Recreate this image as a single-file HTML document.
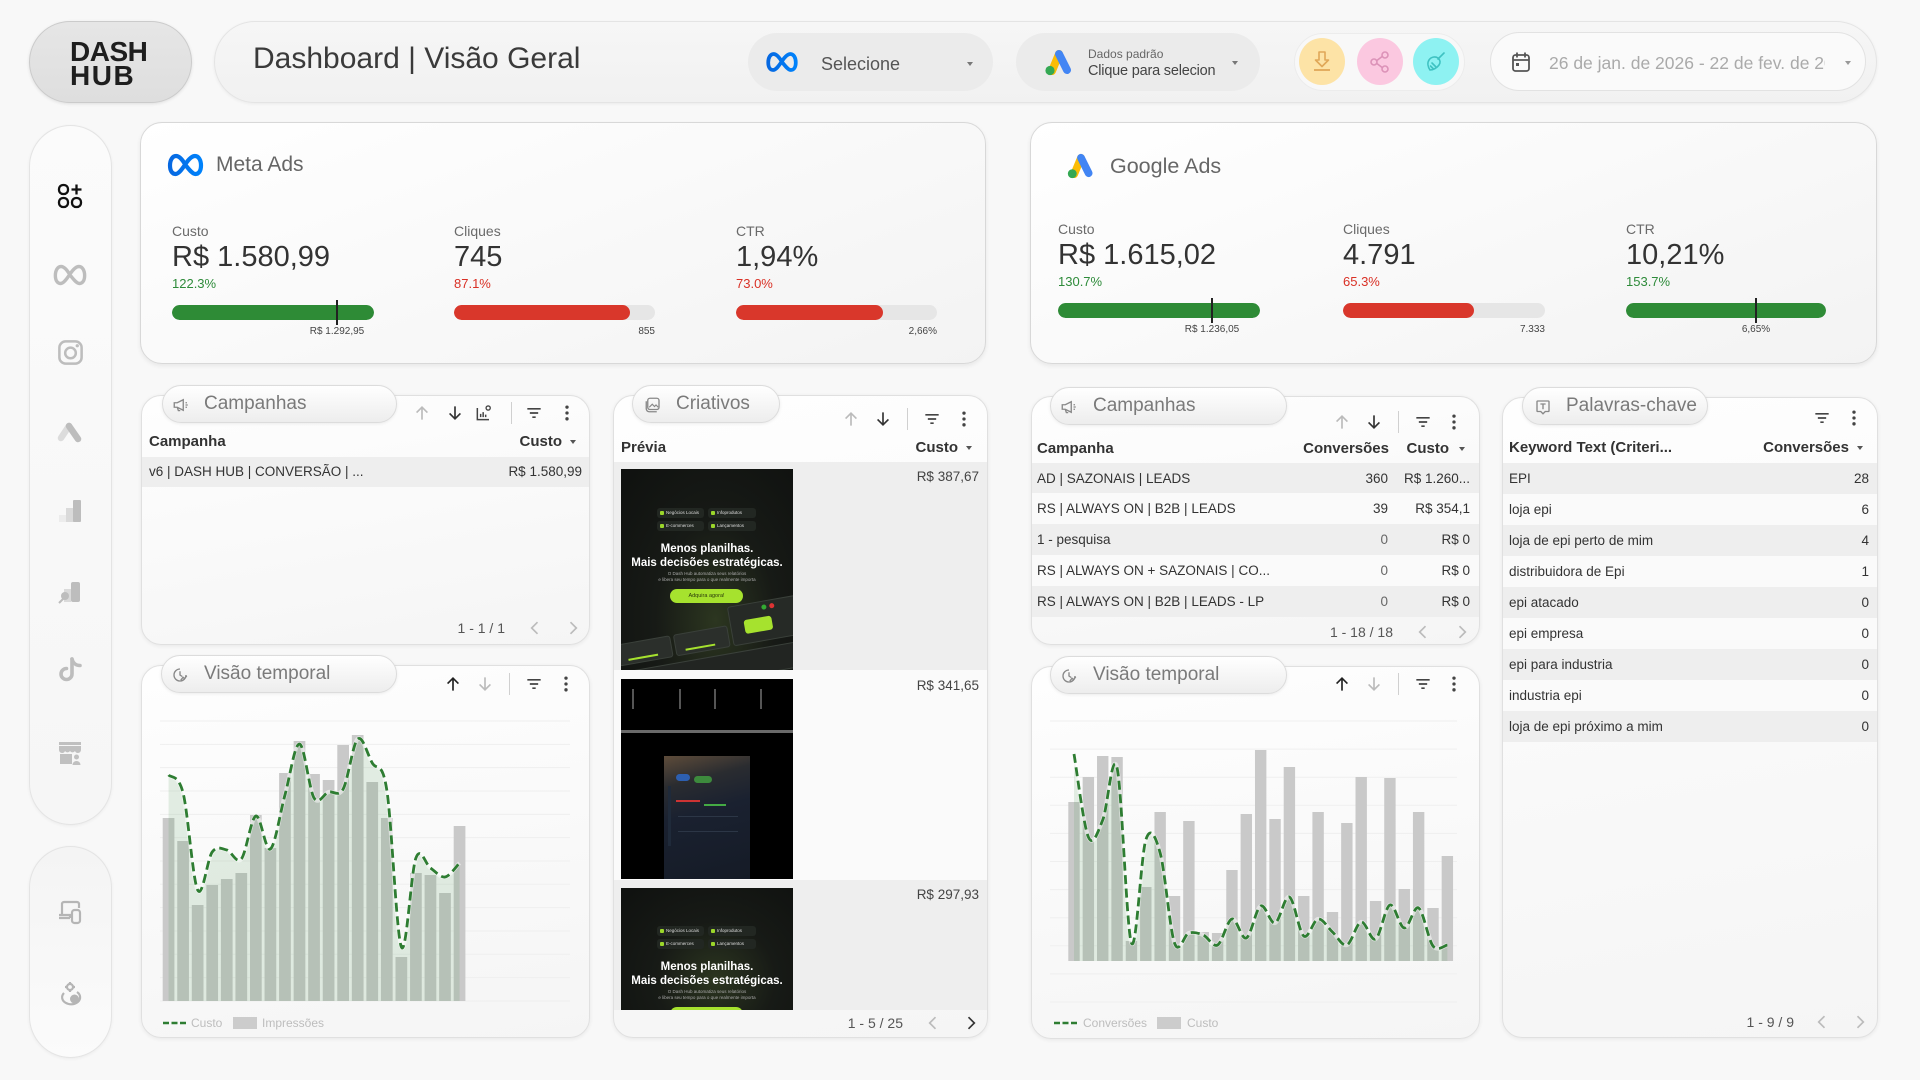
<!DOCTYPE html>
<html><head><meta charset="utf-8">
<style>
*{box-sizing:border-box;margin:0;padding:0}
body{width:1920px;height:1080px;background:#f8f8f8;font-family:"Liberation Sans",Arial,sans-serif;position:relative;overflow:hidden;color:#333}
.a{position:absolute}
.t{position:absolute;white-space:nowrap}
.r{text-align:right}
.card{position:absolute;border:1px solid #d8d8d8;border-radius:22px;background:linear-gradient(160deg,#ffffff 0%,#f3f3f3 100%);box-shadow:0 2px 5px rgba(0,0,0,0.07)}
.panel{position:absolute;border:1px solid #e0e0e0;border-radius:20px;background:linear-gradient(170deg,#fefefe 0%,#f5f5f5 100%);box-shadow:0 1px 4px rgba(0,0,0,0.07)}
.tpill{position:absolute;height:38px;border-radius:19px;border:1px solid #dcdcdc;background:linear-gradient(180deg,#ffffff,#ededed);box-shadow:0 1px 3px rgba(0,0,0,0.07)}
.tpill span{position:absolute;top:0;line-height:36px;font-size:19px;color:#7a7a7a;white-space:nowrap}
.tpill svg{position:absolute;top:10px}
.ic{position:absolute;width:20px;height:20px}
.div{position:absolute;width:1px;height:22px;background:#d0d0d0}
.tri{position:absolute;width:0;height:0;border-left:3.5px solid transparent;border-right:3.5px solid transparent;border-top:4.5px solid #555}
.lab{font-size:14px;line-height:18px;color:#6a6a6a}
.val{font-size:29px;line-height:34px;color:#333}
.pct{font-size:13px;line-height:16px}
.g{color:#2e8b3a}.rd{color:#d93025}
.bar{position:absolute;height:15px;border-radius:8px;background:#e6e6e6;overflow:hidden}
.bar i{position:absolute;left:0;top:0;bottom:0;border-radius:8px}
.tl{position:absolute;width:1.5px;height:25px;background:#222}
.tlab{font-size:10px;line-height:12px;color:#444}
.th{font-size:15px;line-height:18px;font-weight:bold;color:#333}
.td{font-size:13.5px;line-height:17px;color:#333}
.rowg{position:absolute;background:#eeeeee}
.roww{position:absolute;background:#fafafa}
.foot{font-size:14px;line-height:18px;color:#555}
.leg{font-size:12px;line-height:14px;color:#bdbdbd}
.chip{position:absolute;height:10px;border-radius:3px;background:#222722;font-size:4.5px;line-height:10px;color:#ddd;padding-left:9px;white-space:nowrap;overflow:hidden}
.chip b{position:absolute;left:3px;top:3px;width:4px;height:4px;background:#9bd62a;border-radius:1px}
.crea{position:absolute;overflow:hidden;background:radial-gradient(ellipse at 55% 75%,#2c3620 0%,#171a16 45%,#0f110f 100%)}
.hl{position:absolute;left:0;width:172px;text-align:center;font-weight:bold;font-size:11.5px;line-height:14px;color:#fff;white-space:nowrap}
.sm{position:absolute;left:0;width:172px;text-align:center;font-size:4.5px;line-height:6px;color:#aaa;white-space:nowrap}
.btn{position:absolute;left:49px;top:120px;width:73px;height:14px;border-radius:7px;background:#a6e22e;font-size:5.5px;line-height:14px;color:#2a3a0a;text-align:center}
.dc{position:absolute;background:#2b2f2b;border:1px solid #3a403a;border-radius:3px}
</style></head><body>

<svg width="0" height="0" style="position:absolute">
<defs>
<symbol id="up" viewBox="0 0 24 24"><path d="M12 20V5M5.5 11.5L12 5l6.5 6.5" fill="none" stroke="currentColor" stroke-width="2"/></symbol>
<symbol id="dn" viewBox="0 0 24 24"><path d="M12 4v15M5.5 12.5L12 19l6.5-6.5" fill="none" stroke="currentColor" stroke-width="2"/></symbol>
<symbol id="flt" viewBox="0 0 24 24"><path d="M4 7h16M7 12h10M10 17h4" fill="none" stroke="currentColor" stroke-width="2"/></symbol>
<symbol id="more" viewBox="0 0 24 24"><circle cx="12" cy="5" r="2" fill="currentColor"/><circle cx="12" cy="12" r="2" fill="currentColor"/><circle cx="12" cy="19" r="2" fill="currentColor"/></symbol>
<symbol id="cl" viewBox="0 0 24 24"><path d="M15 5l-7 7 7 7" fill="none" stroke="currentColor" stroke-width="2"/></symbol>
<symbol id="cr" viewBox="0 0 24 24"><path d="M9 5l7 7-7 7" fill="none" stroke="currentColor" stroke-width="2"/></symbol>
<symbol id="chartic" viewBox="0 0 24 24"><path d="M4 6v14h14" fill="none" stroke="currentColor" stroke-width="1.8"/><path d="M8 17v-4M11 17v-6M14 17v-3" stroke="currentColor" stroke-width="1.8"/><circle cx="17" cy="6" r="2.5" fill="none" stroke="currentColor" stroke-width="1.6"/></symbol>
<symbol id="mega" viewBox="0 0 24 24"><path d="M3 9h4l8-4v14l-8-4H3z M7 15l1.5 4.5h2.5" fill="none" stroke="currentColor" stroke-width="1.8"/><path d="M18 9h2M18 12h3M18 15h2" stroke="currentColor" stroke-width="1.6"/></symbol>
<symbol id="img" viewBox="0 0 24 24"><rect x="5" y="3" width="15" height="15" rx="3" fill="none" stroke="currentColor" stroke-width="1.8"/><path d="M3 7v10a4 4 0 0 0 4 4h10" fill="none" stroke="currentColor" stroke-width="1.8"/><path d="M7 15l4-4 3 3 2-2 3 3" fill="none" stroke="currentColor" stroke-width="1.6"/></symbol>
<symbol id="clock" viewBox="0 0 24 24"><path d="M20 12a8 8 0 1 1-8-8" fill="none" stroke="currentColor" stroke-width="1.8"/><path d="M12 7v5l3 2" fill="none" stroke="currentColor" stroke-width="1.8"/><path d="M13 19l3-4 2 2 3-4" fill="none" stroke="currentColor" stroke-width="1.8"/></symbol>
<symbol id="tbox" viewBox="0 0 24 24"><path d="M5 4h14a1 1 0 0 1 1 1v12a1 1 0 0 1-1 1h-4l-3 3-3-3H5a1 1 0 0 1-1-1V5a1 1 0 0 1 1-1z" fill="none" stroke="currentColor" stroke-width="1.8"/><path d="M8.5 8h7M12 8v7" stroke="currentColor" stroke-width="1.8"/></symbol>
<linearGradient id="mg" x1="0" y1="0" x2="1" y2="0"><stop offset="0" stop-color="#0668E1"/><stop offset="1" stop-color="#0082FB"/></linearGradient>
<symbol id="metalogo" viewBox="0 0 36 24"><path d="M18 12C14 5 11 3 8.5 3 5 3 2.5 7 2.5 12.5 2.5 17.5 4.5 21 8 21 11 21 14 17 18 11 22 5 25 3 27.5 3 31 3 33.5 7 33.5 12.5 33.5 17.5 31.5 21 28 21 25 21 22 17 18 12Z" fill="none" stroke="url(#mg)" stroke-width="4.2"/></symbol>
<symbol id="gads" viewBox="0 0 32 28"><path d="M10 23L17 6" stroke="#FBBC04" stroke-width="8" stroke-linecap="round"/><path d="M17 6L25 22" stroke="#4285F4" stroke-width="8" stroke-linecap="round"/><circle cx="8" cy="22.5" r="4.6" fill="#34A853"/></symbol>
</defs></svg>

<!-- Logo -->
<div class="a" style="left:29px;top:21px;width:163px;height:82px;border-radius:41px;background:linear-gradient(180deg,#e6e6e6,#dedede);border:1px solid #cbcbcb;box-shadow:0 1px 3px rgba(0,0,0,0.1)"></div>
<div class="t" style="left:70px;top:38px;font-size:28px;line-height:28px;font-weight:bold;color:#1e1e1e;letter-spacing:-0.5px">DASH</div>
<div class="t" style="left:70px;top:62px;font-size:28px;line-height:28px;font-weight:bold;color:#1e1e1e;letter-spacing:1.5px">HUB</div>

<!-- Header bar -->
<div class="a" style="left:214px;top:21px;width:1663px;height:82px;border-radius:41px;background:linear-gradient(180deg,#f6f6f6,#f1f1f1);border:1px solid #e4e4e4;box-shadow:0 1px 3px rgba(0,0,0,0.06)"></div>
<div class="t" style="left:253px;top:41px;font-size:30px;line-height:36px;color:#3a3a3a">Dashboard | Visão Geral</div>

<div class="a" style="left:748px;top:33px;width:245px;height:58px;border-radius:29px;background:#ebebeb"></div>
<svg class="a" style="left:766px;top:51px" width="32" height="22"><use href="#metalogo"/></svg>
<div class="t" style="left:821px;top:53px;font-size:18px;line-height:22px;color:#555">Selecione</div>
<div class="tri" style="left:967px;top:62px;border-top-color:#777"></div>

<div class="a" style="left:1016px;top:33px;width:244px;height:58px;border-radius:29px;background:#ebebeb"></div>
<svg class="a" style="left:1042px;top:48px" width="32" height="28"><use href="#gads"/></svg>
<div class="t" style="left:1088px;top:47px;font-size:12px;line-height:14px;color:#666">Dados padrão</div>
<div class="t" style="left:1088px;top:62px;width:128px;overflow:hidden;font-size:14.5px;line-height:18px;color:#444;letter-spacing:-0.2px">Clique para selecionar</div>
<div class="tri" style="left:1232px;top:61px;border-top-color:#777;border-left-width:3px;border-right-width:3px;border-top-width:4px"></div>

<div class="a" style="left:1294px;top:33px;width:171px;height:58px;border-radius:29px;background:#f8f8f8;border:1px solid #ececec"></div>
<div class="a" style="left:1299px;top:38px;width:46px;height:47px;border-radius:50%;background:#fde3a6"></div>
<div class="a" style="left:1357px;top:38px;width:46px;height:47px;border-radius:50%;background:#fbc8e0"></div>
<div class="a" style="left:1413px;top:38px;width:46px;height:47px;border-radius:50%;background:#8ef2f2"></div>
<svg class="a" style="left:1310px;top:49px" width="24" height="24" viewBox="0 0 24 24"><path d="M9 3h6v8h3.5L12 17.5 5.5 11H9z" fill="none" stroke="#e0a758" stroke-width="1.6" stroke-linejoin="round"/><path d="M4 21h16" stroke="#e0a758" stroke-width="1.8"/></svg>
<svg class="a" style="left:1368px;top:50px" width="24" height="24" viewBox="0 0 24 24"><g fill="none" stroke="#dc92b8" stroke-width="1.6"><circle cx="17" cy="5" r="3"/><circle cx="6" cy="12" r="3"/><circle cx="17" cy="19" r="3"/><path d="M8.7 10.6l5.6-4.2M8.7 13.4l5.6 4.2"/></g></svg>
<svg class="a" style="left:1424px;top:50px" width="24" height="24" viewBox="0 0 24 24"><g fill="none" stroke="#3fc2c2" stroke-width="1.6" stroke-linecap="round"><path d="M20 3l-6 6"/><path d="M14 8c-3-2-7-1-9 2-2 3-1 7 1 10 3 0 7-2 9-5s1-5-1-7z"/><path d="M8 13l4 4M6.5 16l3 3"/></g></svg>

<div class="a" style="left:1490px;top:32px;width:376px;height:59px;border-radius:30px;background:#fafafa;border:1px solid #e2e2e2"></div>
<svg class="a" style="left:1508px;top:50px" width="26" height="24" viewBox="0 0 24 24"><g fill="none" stroke="#555" stroke-width="1.8"><rect x="4" y="5" width="16" height="16" rx="2.5"/><path d="M8 2.5v5M16 2.5v5M4 10h16"/></g><rect x="7" y="13" width="3" height="3" fill="#555"/></svg>
<div class="t" style="left:1549px;top:52px;width:276px;overflow:hidden;font-size:17.5px;line-height:22px;color:#aaa">26 de jan. de 2026 - 22 de fev. de 2026</div>
<div class="tri" style="left:1845px;top:61px;border-top-color:#999"></div>

<!-- Sidebar -->
<div class="a" style="left:29px;top:125px;width:83px;height:700px;border-radius:42px;background:linear-gradient(180deg,#fbfbfb,#f6f6f6);border:1px solid #e4e4e4;box-shadow:0 1px 3px rgba(0,0,0,0.05)"></div>
<div class="a" style="left:29px;top:846px;width:83px;height:212px;border-radius:42px;background:linear-gradient(180deg,#f4f4f4,#fbfbfb);border:1px solid #e4e4e4;box-shadow:0 1px 3px rgba(0,0,0,0.05)"></div>

<svg class="a" style="left:55px;top:181px" width="30" height="30" viewBox="0 0 30 30"><g fill="none" stroke="#111" stroke-width="2.3"><rect x="4" y="4" width="9" height="9" rx="4"/><rect x="4" y="17" width="9" height="9" rx="4"/><rect x="17" y="17" width="9" height="9" rx="4"/><path d="M21.5 3.5v10M16.5 8.5h10"/></g></svg>
<svg class="a" style="left:53px;top:262px" width="34" height="26" viewBox="0 0 36 24"><path d="M18 12C14 5 11 3 8.5 3 5 3 2.5 7 2.5 12.5 2.5 17.5 4.5 21 8 21 11 21 14 17 18 11 22 5 25 3 27.5 3 31 3 33.5 7 33.5 12.5 33.5 17.5 31.5 21 28 21 25 21 22 17 18 12Z" fill="none" stroke="#bdbdbd" stroke-width="3.6"/></svg>
<svg class="a" style="left:56px;top:338px" width="29" height="29" viewBox="0 0 30 30"><g fill="none" stroke="#bdbdbd" stroke-width="2.6"><rect x="3.5" y="3.5" width="23" height="23" rx="6.5"/><circle cx="15" cy="15.5" r="5.5"/></g><circle cx="22" cy="8" r="1.7" fill="#bdbdbd"/></svg>
<svg class="a" style="left:55px;top:416px" width="30" height="30" viewBox="0 0 30 30"><path d="M6 22L14 10" stroke="#dcdcdc" stroke-width="6.5" stroke-linecap="round"/><path d="M14 10L23 23" stroke="#bdbdbd" stroke-width="6.5" stroke-linecap="round"/></svg>
<svg class="a" style="left:55px;top:496px" width="30" height="30" viewBox="0 0 30 30"><rect x="4" y="19" width="8" height="7" fill="#ececec"/><rect x="11" y="12" width="8" height="14" fill="#dadada"/><rect x="18" y="4" width="8" height="22" rx="1" fill="#bdbdbd"/></svg>
<svg class="a" style="left:55px;top:576px" width="30" height="30" viewBox="0 0 30 30"><rect x="9" y="13" width="7" height="13" fill="#dadada"/><rect x="16" y="6" width="9" height="20" rx="2" fill="#bdbdbd"/><circle cx="10" cy="20" r="4" fill="#bdbdbd"/><path d="M4 27l5-5" stroke="#bdbdbd" stroke-width="2"/></svg>
<svg class="a" style="left:56px;top:655px" width="30" height="30" viewBox="0 0 30 30"><g fill="none" stroke="#bdbdbd" stroke-width="3.6" stroke-linecap="round"><path d="M16 4v15a5.5 5.5 0 1 1-5.5-5.5"/><path d="M16 4c1 4 4 6.5 8 6.5"/></g></svg>
<svg class="a" style="left:55px;top:738px" width="30" height="30" viewBox="0 0 30 30"><g fill="#c0c0c0"><rect x="4" y="4" width="22" height="3"/><path d="M4 8h22v4a3 3 0 0 1-3 3 3 3 0 0 1-3-2 3 3 0 0 1-5 0 3 3 0 0 1-5 0 3 3 0 0 1-3 2 3 3 0 0 1-3-3z"/><rect x="5" y="16" width="12" height="10"/><circle cx="21.5" cy="19" r="2.5"/><path d="M17.5 27a4 4 0 0 1 8 0z"/></g></svg>

<svg class="a" style="left:55px;top:897px" width="30" height="30" viewBox="0 0 30 30"><g fill="none" stroke="#b5b5b5" stroke-width="2.2"><path d="M7 18V7a2 2 0 0 1 2-2h13a2 2 0 0 1 2 2v4"/><path d="M4 21h11M4 18h11v3"/><rect x="17" y="13" width="8" height="13" rx="2.5"/></g></svg>
<svg class="a" style="left:55px;top:980px" width="30" height="30" viewBox="0 0 30 30"><g fill="none" stroke="#b5b5b5" stroke-width="2.2"><path d="M9 13a9 7 0 1 0 13-1"/><circle cx="15" cy="7" r="3"/><path d="M15 2v2M15 10v2M10 7h2M18 7h2"/></g><circle cx="19.5" cy="19" r="4.5" fill="#b5b5b5"/></svg>

<!-- Meta Ads card -->
<div class="card" style="left:140px;top:122px;width:846px;height:242px"></div>
<svg class="a" style="left:167px;top:153px" width="37" height="24"><use href="#metalogo"/></svg>
<div class="t" style="left:216px;top:152px;font-size:21px;line-height:26px;color:#666">Meta Ads</div>

<div class="t lab" style="left:172px;top:222px">Custo</div>
<div class="t val" style="left:172px;top:240px">R$ 1.580,99</div>
<div class="t pct g" style="left:172px;top:276px">122.3%</div>
<div class="bar" style="left:172px;top:305px;width:202px"><i style="width:100%;background:#2e8b36"></i></div>
<div class="tl" style="left:336px;top:300px"></div>
<div class="t tlab" style="left:287px;width:100px;text-align:center;top:326px">R$ 1.292,95</div>

<div class="t lab" style="left:454px;top:222px">Cliques</div>
<div class="t val" style="left:454px;top:240px">745</div>
<div class="t pct rd" style="left:454px;top:276px">87.1%</div>
<div class="bar" style="left:454px;top:305px;width:201px"><i style="width:176px;background:#d9372b"></i></div>
<div class="t tlab r" style="left:555px;width:100px;top:326px">855</div>

<div class="t lab" style="left:736px;top:222px">CTR</div>
<div class="t val" style="left:736px;top:240px">1,94%</div>
<div class="t pct rd" style="left:736px;top:276px">73.0%</div>
<div class="bar" style="left:736px;top:305px;width:201px"><i style="width:147px;background:#d9372b"></i></div>
<div class="t tlab r" style="left:837px;width:100px;top:326px">2,66%</div>

<!-- Google Ads card -->
<div class="card" style="left:1030px;top:122px;width:847px;height:242px"></div>
<svg class="a" style="left:1064px;top:152px" width="32" height="27"><use href="#gads"/></svg>
<div class="t" style="left:1110px;top:153px;font-size:21.5px;line-height:26px;color:#666">Google Ads</div>

<div class="t lab" style="left:1058px;top:220px">Custo</div>
<div class="t val" style="left:1058px;top:238px">R$ 1.615,02</div>
<div class="t pct g" style="left:1058px;top:274px">130.7%</div>
<div class="bar" style="left:1058px;top:303px;width:202px"><i style="width:100%;background:#2e8b36"></i></div>
<div class="tl" style="left:1211px;top:298px"></div>
<div class="t tlab" style="left:1162px;width:100px;text-align:center;top:324px">R$ 1.236,05</div>

<div class="t lab" style="left:1343px;top:220px">Cliques</div>
<div class="t val" style="left:1343px;top:238px">4.791</div>
<div class="t pct rd" style="left:1343px;top:274px">65.3%</div>
<div class="bar" style="left:1343px;top:303px;width:202px"><i style="width:131px;background:#d9372b"></i></div>
<div class="t tlab r" style="left:1445px;width:100px;top:324px">7.333</div>

<div class="t lab" style="left:1626px;top:220px">CTR</div>
<div class="t val" style="left:1626px;top:238px">10,21%</div>
<div class="t pct g" style="left:1626px;top:274px">153.7%</div>
<div class="bar" style="left:1626px;top:303px;width:200px"><i style="width:100%;background:#2e8b36"></i></div>
<div class="tl" style="left:1755px;top:298px"></div>
<div class="t tlab" style="left:1706px;width:100px;text-align:center;top:324px">6,65%</div>

<!-- Panels -->
<div class="panel" style="left:141px;top:395px;width:449px;height:250px"></div>
<div class="panel" style="left:141px;top:665px;width:449px;height:373px"></div>
<div class="panel" style="left:613px;top:395px;width:375px;height:643px"></div>
<div class="panel" style="left:1031px;top:396px;width:449px;height:249px"></div>
<div class="panel" style="left:1031px;top:666px;width:449px;height:373px"></div>
<div class="panel" style="left:1502px;top:397px;width:376px;height:641px"></div>

<!-- P1 Meta campanhas -->
<div class="t th" style="left:149px;top:433px">Campanha</div>
<div class="t th r" style="left:362px;width:200px;top:433px">Custo</div>
<div class="tri" style="left:570px;top:440px"></div>
<div class="rowg" style="left:142px;top:457px;width:447px;height:30px"></div>
<div class="t td" style="left:149px;top:463px">v6 | DASH HUB | CONVERSÃO | ...</div>
<div class="t td r" style="left:382px;width:200px;top:463px">R$ 1.580,99</div>
<div class="t foot r" style="left:405px;width:100px;top:619px">1 - 1 / 1</div>
<svg class="ic" style="left:525px;top:618px;color:#bbb"><use href="#cl"/></svg>
<svg class="ic" style="left:563px;top:618px;color:#bbb"><use href="#cr"/></svg>
<svg class="ic" style="left:412px;top:403px;color:#bbb"><use href="#up"/></svg>
<svg class="ic" style="left:445px;top:403px;color:#333"><use href="#dn"/></svg>
<svg class="ic" style="left:474px;top:403px;color:#444"><use href="#chartic"/></svg>
<div class="div" style="left:511px;top:402px"></div>
<svg class="ic" style="left:524px;top:403px;color:#444"><use href="#flt"/></svg>
<svg class="ic" style="left:557px;top:403px;color:#444"><use href="#more"/></svg>
<div class="tpill" style="left:162px;top:385px;width:235px"><svg width="18" height="18" style="left:9px;color:#888"><use href="#mega"/></svg><span style="left:41px">Campanhas</span></div>

<!-- P3 Criativos -->
<div class="t th" style="left:621px;top:439px">Prévia</div>
<div class="t th r" style="left:758px;width:200px;top:439px">Custo</div>
<div class="tri" style="left:966px;top:446px"></div>
<div class="rowg" style="left:614px;top:462px;width:373px;height:208px"></div>
<div class="roww" style="left:614px;top:670px;width:373px;height:210px"></div>
<div class="rowg" style="left:614px;top:880px;width:373px;height:130px"></div>
<div class="t td r" style="left:779px;width:200px;top:468px;color:#444">R$ 387,67</div>
<div class="t td r" style="left:779px;width:200px;top:677px;color:#444">R$ 341,65</div>
<div class="t td r" style="left:779px;width:200px;top:886px;color:#444">R$ 297,93</div>

<div class="crea" style="left:621px;top:469px;width:172px;height:201px">
  <div class="chip" style="left:36px;top:39px;width:47px"><b></b>Negócios Locais</div>
  <div class="chip" style="left:87px;top:39px;width:48px"><b></b>Infoprodutos</div>
  <div class="chip" style="left:36px;top:52px;width:47px"><b></b>E-commerces</div>
  <div class="chip" style="left:87px;top:52px;width:48px"><b></b>Lançamentos</div>
  <div class="hl" style="top:73px">Menos planilhas.<br>Mais decisões estratégicas.</div>
  <div class="sm" style="top:102px">O Dash Hub automatiza seus relatórios<br>e libera seu tempo para o que realmente importa</div>
  <div class="btn">Adquira agora!</div>
  <div class="a" style="left:-20px;top:150px;width:220px;height:80px;transform:rotate(-10deg);transform-origin:0 0">
    <div class="dc" style="left:10px;top:28px;width:55px;height:22px"></div>
    <div class="dc" style="left:68px;top:28px;width:55px;height:22px"></div>
    <div class="dc" style="left:126px;top:10px;width:80px;height:40px;background:#262a26"></div>
    <div class="a" style="left:140px;top:26px;width:28px;height:14px;border-radius:3px;background:#a6e22e"></div>
    <div class="a" style="left:20px;top:44px;width:30px;height:2px;background:#a6e22e"></div>
    <div class="a" style="left:78px;top:44px;width:30px;height:2px;background:#a6e22e"></div>
    <div class="a" style="left:160px;top:14px;width:5px;height:5px;border-radius:50%;background:#3a3"></div>
    <div class="a" style="left:168px;top:14px;width:5px;height:5px;border-radius:50%;background:#d33"></div>
    <div class="dc" style="left:0;top:56px;width:220px;height:26px;background:#222522"></div>
  </div>
</div>

<div class="a" style="left:621px;top:679px;width:172px;height:200px;background:#000;overflow:hidden">
  <div class="a" style="left:11px;top:10px;width:2px;height:20px;background:#555"></div>
  <div class="a" style="left:58px;top:10px;width:2px;height:20px;background:#555"></div>
  <div class="a" style="left:93px;top:10px;width:2px;height:20px;background:#555"></div>
  <div class="a" style="left:139px;top:10px;width:2px;height:20px;background:#555"></div>
  <div class="a" style="left:0;top:51px;width:172px;height:3px;background:#6a6a6a"></div>
  <div class="a" style="left:43px;top:77px;width:86px;height:123px;background:linear-gradient(165deg,#5e4c3a 0%,#2a2c30 22%,#1a2130 45%,#151b26 100%)">
    <div class="a" style="left:12px;top:18px;width:14px;height:7px;border-radius:4px;background:#2d5fb0"></div>
    <div class="a" style="left:30px;top:20px;width:18px;height:7px;border-radius:4px;background:#3d8a3d"></div>
    <div class="a" style="left:12px;top:44px;width:24px;height:1.5px;background:#c33"></div>
    <div class="a" style="left:40px;top:48px;width:22px;height:1.5px;background:#4a4"></div>
    <div class="a" style="left:4px;top:30px;width:3px;height:60px;background:#1f2a3a"></div>
    <div class="a" style="left:14px;top:60px;width:60px;height:1px;background:#2c3646"></div>
    <div class="a" style="left:14px;top:75px;width:60px;height:1px;background:#2c3646"></div>
  </div>
</div>

<div class="crea" style="left:621px;top:888px;width:172px;height:122px">
  <div class="chip" style="left:36px;top:38px;width:47px"><b></b>Negócios Locais</div>
  <div class="chip" style="left:87px;top:38px;width:48px"><b></b>Infoprodutos</div>
  <div class="chip" style="left:36px;top:51px;width:47px"><b></b>E-commerces</div>
  <div class="chip" style="left:87px;top:51px;width:48px"><b></b>Lançamentos</div>
  <div class="hl" style="top:72px">Menos planilhas.<br>Mais decisões estratégicas.</div>
  <div class="sm" style="top:101px">O Dash Hub automatiza seus relatórios<br>e libera seu tempo para o que realmente importa</div>
  <div class="btn" style="top:119px">Adquira agora!</div>
</div>

<div class="t foot r" style="left:803px;width:100px;top:1014px">1 - 5 / 25</div>
<svg class="ic" style="left:923px;top:1013px;color:#bbb"><use href="#cl"/></svg>
<svg class="ic" style="left:961px;top:1013px;color:#333"><use href="#cr"/></svg>
<svg class="ic" style="left:841px;top:409px;color:#bbb"><use href="#up"/></svg>
<svg class="ic" style="left:873px;top:409px;color:#333"><use href="#dn"/></svg>
<div class="div" style="left:907px;top:408px"></div>
<svg class="ic" style="left:922px;top:409px;color:#444"><use href="#flt"/></svg>
<svg class="ic" style="left:954px;top:409px;color:#444"><use href="#more"/></svg>
<div class="tpill" style="left:632px;top:385px;width:148px"><svg width="18" height="18" style="left:11px;color:#888"><use href="#img"/></svg><span style="left:43px">Criativos</span></div>

<!-- P2 Meta temporal -->
<svg class="ic" style="left:443px;top:674px;color:#222"><use href="#up"/></svg>
<svg class="ic" style="left:475px;top:674px;color:#bbb"><use href="#dn"/></svg>
<div class="div" style="left:509px;top:673px"></div>
<svg class="ic" style="left:524px;top:674px;color:#444"><use href="#flt"/></svg>
<svg class="ic" style="left:556px;top:674px;color:#444"><use href="#more"/></svg>
<div class="tpill" style="left:161px;top:655px;width:236px"><svg width="18" height="18" style="left:9px;color:#888"><use href="#clock"/></svg><span style="left:42px">Visão temporal</span></div>
<svg class="a" style="left:163px;top:1021px" width="23" height="4"><line x1="0" y1="2" x2="23" y2="2" stroke="#2e7d32" stroke-width="2.6" stroke-dasharray="6 2.5"/></svg>
<div class="t leg" style="left:191px;top:1016px">Custo</div>
<div class="a" style="left:233px;top:1017px;width:24px;height:12px;background:#cccccc"></div>
<div class="t leg" style="left:262px;top:1016px">Impressões</div>

<!-- P4 Google campanhas -->
<div class="t th" style="left:1037px;top:440px">Campanha</div>
<div class="t th r" style="left:1189px;width:200px;top:440px">Conversões</div>
<div class="t th r" style="left:1249px;width:200px;top:440px">Custo</div>
<div class="tri" style="left:1459px;top:447px"></div>
<div class="rowg" style="left:1032px;top:463px;width:447px;height:30px"></div>
<div class="roww" style="left:1032px;top:493px;width:447px;height:31px"></div>
<div class="rowg" style="left:1032px;top:524px;width:447px;height:31px"></div>
<div class="roww" style="left:1032px;top:555px;width:447px;height:31px"></div>
<div class="rowg" style="left:1032px;top:586px;width:447px;height:31px"></div>
<div class="t td" style="left:1037px;top:470px">AD | SAZONAIS | LEADS</div>
<div class="t td r" style="left:1288px;width:100px;top:470px">360</div>
<div class="t td r" style="left:1370px;width:100px;top:470px">R$ 1.260...</div>
<div class="t td" style="left:1037px;top:500px">RS | ALWAYS ON | B2B | LEADS</div>
<div class="t td r" style="left:1288px;width:100px;top:500px">39</div>
<div class="t td r" style="left:1370px;width:100px;top:500px">R$ 354,1</div>
<div class="t td" style="left:1037px;top:531px">1 - pesquisa</div>
<div class="t td r" style="left:1288px;width:100px;top:531px;color:#666">0</div>
<div class="t td r" style="left:1370px;width:100px;top:531px">R$ 0</div>
<div class="t td" style="left:1037px;top:562px">RS | ALWAYS ON + SAZONAIS | CO...</div>
<div class="t td r" style="left:1288px;width:100px;top:562px;color:#666">0</div>
<div class="t td r" style="left:1370px;width:100px;top:562px">R$ 0</div>
<div class="t td" style="left:1037px;top:593px">RS | ALWAYS ON | B2B | LEADS - LP</div>
<div class="t td r" style="left:1288px;width:100px;top:593px;color:#666">0</div>
<div class="t td r" style="left:1370px;width:100px;top:593px">R$ 0</div>
<div class="t foot r" style="left:1293px;width:100px;top:623px">1 - 18 / 18</div>
<svg class="ic" style="left:1413px;top:622px;color:#bbb"><use href="#cl"/></svg>
<svg class="ic" style="left:1452px;top:622px;color:#bbb"><use href="#cr"/></svg>
<svg class="ic" style="left:1332px;top:412px;color:#bbb"><use href="#up"/></svg>
<svg class="ic" style="left:1364px;top:412px;color:#333"><use href="#dn"/></svg>
<div class="div" style="left:1398px;top:411px"></div>
<svg class="ic" style="left:1413px;top:412px;color:#444"><use href="#flt"/></svg>
<svg class="ic" style="left:1444px;top:412px;color:#444"><use href="#more"/></svg>
<div class="tpill" style="left:1050px;top:387px;width:237px"><svg width="18" height="18" style="left:9px;color:#888"><use href="#mega"/></svg><span style="left:42px">Campanhas</span></div>

<!-- P5 Google temporal -->
<svg class="ic" style="left:1332px;top:674px;color:#222"><use href="#up"/></svg>
<svg class="ic" style="left:1364px;top:674px;color:#bbb"><use href="#dn"/></svg>
<div class="div" style="left:1398px;top:673px"></div>
<svg class="ic" style="left:1413px;top:674px;color:#444"><use href="#flt"/></svg>
<svg class="ic" style="left:1444px;top:674px;color:#444"><use href="#more"/></svg>
<div class="tpill" style="left:1050px;top:656px;width:237px"><svg width="18" height="18" style="left:9px;color:#888"><use href="#clock"/></svg><span style="left:42px">Visão temporal</span></div>
<svg class="a" style="left:1054px;top:1021px" width="23" height="4"><line x1="0" y1="2" x2="23" y2="2" stroke="#2e7d32" stroke-width="2.6" stroke-dasharray="6 2.5"/></svg>
<div class="t leg" style="left:1083px;top:1016px">Conversões</div>
<div class="a" style="left:1157px;top:1017px;width:24px;height:12px;background:#cccccc"></div>
<div class="t leg" style="left:1187px;top:1016px">Custo</div>

<!-- P6 Palavras-chave -->
<div class="t th" style="left:1509px;top:439px">Keyword Text (Criteri...</div>
<div class="t th r" style="left:1649px;width:200px;top:439px">Conversões</div>
<div class="tri" style="left:1857px;top:446px"></div>
<div class="rowg" style="left:1503px;top:463px;width:374px;height:31px"></div>
<div class="roww" style="left:1503px;top:494px;width:374px;height:31px"></div>
<div class="rowg" style="left:1503px;top:525px;width:374px;height:31px"></div>
<div class="roww" style="left:1503px;top:556px;width:374px;height:31px"></div>
<div class="rowg" style="left:1503px;top:587px;width:374px;height:31px"></div>
<div class="roww" style="left:1503px;top:618px;width:374px;height:31px"></div>
<div class="rowg" style="left:1503px;top:649px;width:374px;height:31px"></div>
<div class="roww" style="left:1503px;top:680px;width:374px;height:31px"></div>
<div class="rowg" style="left:1503px;top:711px;width:374px;height:31px"></div>
<div class="t td" style="left:1509px;top:470px">EPI</div><div class="t td r" style="left:1769px;width:100px;top:470px">28</div>
<div class="t td" style="left:1509px;top:501px">loja epi</div><div class="t td r" style="left:1769px;width:100px;top:501px">6</div>
<div class="t td" style="left:1509px;top:532px">loja de epi perto de mim</div><div class="t td r" style="left:1769px;width:100px;top:532px">4</div>
<div class="t td" style="left:1509px;top:563px">distribuidora de Epi</div><div class="t td r" style="left:1769px;width:100px;top:563px">1</div>
<div class="t td" style="left:1509px;top:594px">epi atacado</div><div class="t td r" style="left:1769px;width:100px;top:594px">0</div>
<div class="t td" style="left:1509px;top:625px">epi empresa</div><div class="t td r" style="left:1769px;width:100px;top:625px">0</div>
<div class="t td" style="left:1509px;top:656px">epi para industria</div><div class="t td r" style="left:1769px;width:100px;top:656px">0</div>
<div class="t td" style="left:1509px;top:687px">industria epi</div><div class="t td r" style="left:1769px;width:100px;top:687px">0</div>
<div class="t td" style="left:1509px;top:718px">loja de epi próximo a mim</div><div class="t td r" style="left:1769px;width:100px;top:718px">0</div>
<div class="t foot r" style="left:1694px;width:100px;top:1013px">1 - 9 / 9</div>
<svg class="ic" style="left:1812px;top:1012px;color:#bbb"><use href="#cl"/></svg>
<svg class="ic" style="left:1850px;top:1012px;color:#bbb"><use href="#cr"/></svg>
<svg class="ic" style="left:1812px;top:408px;color:#444"><use href="#flt"/></svg>
<svg class="ic" style="left:1844px;top:408px;color:#444"><use href="#more"/></svg>
<div class="tpill" style="left:1522px;top:387px;width:186px"><svg width="18" height="18" style="left:11px;color:#888"><use href="#tbox"/></svg><span style="left:43px">Palavras-chave</span></div>

<!-- Charts -->
<svg id="charts" class="a" style="left:0;top:0;pointer-events:none" width="1920" height="1080"></svg>
<script>
(function(){
var svg=document.getElementById('charts');
var NS='http://www.w3.org/2000/svg';
function el(t,a){var e=document.createElementNS(NS,t);for(var k in a)e.setAttribute(k,a[k]);svg.appendChild(e);return e;}
function f(v){return v.toFixed(2);}
function smooth(p){var d='M'+f(p[0][0])+','+f(p[0][1]);for(var i=0;i<p.length-1;i++){var p0=p[i-1]||p[i],p1=p[i],p2=p[i+1],p3=p[i+2]||p2;
d+=' C'+f(p1[0]+(p2[0]-p0[0])/6)+','+f(p1[1]+(p2[1]-p0[1])/6)+' '+f(p2[0]-(p3[0]-p1[0])/6)+','+f(p2[1]-(p3[1]-p1[1])/6)+' '+f(p2[0])+','+f(p2[1]);}return d;}
function chart(c){
 for(var k=0;k<c.gn;k++){var y=c.g0+k*c.gs;el('line',{x1:c.gx1,x2:c.gx2,y1:y,y2:y,stroke:'#efefef','stroke-width':1});}
 var pts=[];
 for(var i=0;i<c.tops.length;i++){var x=c.x0+i*c.p;el('rect',{x:f(x),y:c.tops[i],width:c.w,height:c.base-c.tops[i],fill:'#c9c9c9'});pts.push([x+c.w/2,c.line[i]]);}
 var d=smooth(pts);
 el('path',{d:d+' L'+f(pts[pts.length-1][0])+','+c.base+' L'+f(pts[0][0])+','+c.base+' Z',fill:'rgba(56,142,60,0.13)'});
 el('path',{d:d,fill:'none',stroke:'#ffffff','stroke-width':4.2,'stroke-opacity':0.5});
 el('path',{d:d,fill:'none',stroke:'#2e7d32','stroke-width':2.8,'stroke-dasharray':'9 4.5'});
}
chart({gn:13,g0:721,gs:23.33,gx1:160,gx2:570,x0:162.7,p:14.55,w:11.7,base:1001,
 tops:[818,841,905,885,879,873,815,848,773,741,774,780,745,735,782,818,957,873,875,893,826],
 line:[775,793,890,852,850,859,816,849,795,744,798,792,789,739,763,790,947,858,868,877,863]});
chart({gn:11,g0:721,gs:28.1,gx1:1050,gx2:1457,x0:1068.3,p:14.36,w:11.4,base:961,
 tops:[802,777,756,757,941,887,812,896,821,932,933,870,814,750,819,767,896,812,912,823,777,901,778,889,812,908,856],
 line:[754,837,820,768,943,840,853,943,933,935,945,919,938,906,923,897,936,919,932,945,922,939,905,928,908,946,945]});
})();
</script>
</body></html>
